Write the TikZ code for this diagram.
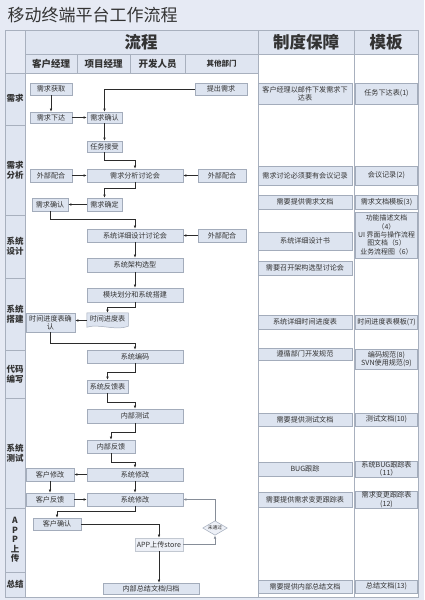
\documentclass[tikz,border=0pt]{standalone}
\usepackage{fontspec}
\setmainfont{Noto Sans CJK SC}
\usetikzlibrary{arrows.meta,shapes.geometric}
\definecolor{bgc}{HTML}{E6EAF4}
\definecolor{hdrc}{HTML}{DFE5F1}
\definecolor{boxc}{HTML}{DDE4F0}
\definecolor{lboxc}{HTML}{EDF0F7}
\definecolor{bordc}{HTML}{A3ACBB}
\definecolor{gridc}{HTML}{A8B0BE}
\definecolor{txtc}{HTML}{333333}
\definecolor{linec}{HTML}{2B2B2B}
\begin{document}
\begin{tikzpicture}[x=1pt,y=-1pt,
  fbox/.style={draw=bordc, fill=boxc, line width=0.5pt, inner sep=0pt, text=txtc, font=\fontsize{7.1}{8.4}\selectfont, align=center},
  arr/.style={draw=linec, line width=0.55pt, -{Latex[length=3.2pt,width=2.6pt]}},
  cell/.style={draw=gridc, line width=0.5pt},
  hdr/.style={text=txtc, font=\bfseries\fontsize{16.5}{18}\selectfont},
  subhdr/.style={text=txtc, font=\bfseries\fontsize{9.5}{11}\selectfont},
  lab/.style={text=txtc, font=\bfseries\fontsize{8.5}{10}\selectfont, align=center},
]
\useasboundingbox (0,0) rectangle (424,600);
\fill[bgc] (0,0) rectangle (424,600);
\node[anchor=west, font=\fontsize{17}{19}\selectfont, text=txtc] (title) at (4,15) {移动终端平台工作流程};

% header grid
\filldraw[cell, fill=bgc] (5,30) rectangle (25,73);
\filldraw[cell, fill=hdrc] (25,30) rectangle (258,54);
\filldraw[cell, fill=hdrc] (258,30) rectangle (354,54);
\filldraw[cell, fill=hdrc] (354,30) rectangle (418,54);
\filldraw[cell, fill=hdrc] (25,54) rectangle (77,73);
\filldraw[cell, fill=hdrc] (77,54) rectangle (130,73);
\filldraw[cell, fill=hdrc] (130,54) rectangle (185,73);
\filldraw[cell, fill=hdrc] (185,54) rectangle (258,73);
% body
\filldraw[cell, fill=white] (25,73) rectangle (258,597);
\filldraw[cell, fill=white] (258,54) rectangle (354,597);
\filldraw[cell, fill=white] (354,54) rectangle (418,597);
% left column
\foreach \a/\b in {73/125,125/215,215/278,278/350,350/398,398/508,508/572,572/597}
  \filldraw[cell, fill=hdrc] (5,\a) rectangle (25,\b);

\node[hdr] (h1) at (141,42) {流程};
\node[hdr] (h2) at (306,42) {制度保障};
\node[hdr] (h3) at (386,42) {模板};
\node[subhdr] (s1) at (51,63.5) {客户经理};
\node[subhdr] (s2) at (103.5,63.5) {项目经理};
\node[subhdr] (s3) at (157.5,63.5) {开发人员};
\node[subhdr, font=\bfseries\fontsize{7.5}{8}\selectfont] (s4) at (221.5,63.5) {其他部门};

\node[lab] (l1) at (15,98.5) {需求};
\node[lab] (l2) at (15,170) {需求\\分析};
\node[lab] (l3) at (15,246.5) {系统\\设计};
\node[lab] (l4) at (15,314) {系统\\搭建};
\node[lab] (l5) at (15,374) {代码\\编写};
\node[lab] (l6) at (15,453) {系统\\测试};
\node[lab, font=\bfseries\fontsize{8.5}{9.6}\selectfont] (l7) at (15,540) {A\\P\\P\\上\\传};
\node[lab] (l8) at (15,584.5) {总结};

% flow nodes
\node[fbox, minimum width=42, minimum height=12] (qhq) at (51,89) {需求获取};
\node[fbox, minimum width=52, minimum height=12] (tcx) at (221,89) {提出需求};
\node[fbox, minimum width=42, minimum height=11] (xqxd) at (51,117.5) {需求下达};
\node[fbox, minimum width=35, minimum height=11] (xqqr) at (104.5,117.5) {需求确认};
\node[fbox, minimum width=35, minimum height=11] (rwjs) at (104.5,146.5) {任务接受};
\node[fbox, minimum width=42, minimum height=13] (wb1) at (51,175.5) {外部配合};
\node[fbox, minimum width=96, minimum height=13] (fxt) at (135,175.5) {需求分析讨论会};
\node[fbox, minimum width=48, minimum height=13] (wb2) at (222,175.5) {外部配合};
\node[fbox, minimum width=36, minimum height=13] (xqqr2) at (50,204.5) {需求确认};
\node[fbox, minimum width=35, minimum height=13] (xqqd) at (104.5,204.5) {需求确定};
\node[fbox, minimum width=96, minimum height=13] (xxsj) at (135,235.5) {系统详细设计讨论会};
\node[fbox, minimum width=48, minimum height=13] (wb3) at (222,235.5) {外部配合};
\node[fbox, minimum width=96, minimum height=14] (jgxx) at (135,265) {系统架构选型};
\node[fbox, minimum width=96, minimum height=14] (mkhf) at (135,295) {模块划分和系统搭建};
\node[fbox, minimum width=49, minimum height=19] (sjqr) at (50.5,322.5) {时间进度表确\\认};
\node[fbox, draw=none, fill=none, minimum width=41, minimum height=15] (sjb) at (107.5,320.5) {};
\filldraw[draw=bordc, fill=boxc, line width=0.5pt] (sjb.north west) -- (sjb.north east) -- ([yshift=2pt]sjb.south east)
  .. controls ([xshift=-12pt,yshift=-3pt]sjb.south east) and ([xshift=12pt,yshift=5pt]sjb.south west) .. ([yshift=1pt]sjb.south west) -- cycle;
\node[text=txtc, font=\fontsize{7.1}{8.4}\selectfont] (sjbt) at ([yshift=1.5pt]sjb.center) {时间进度表};
\node[fbox, minimum width=96, minimum height=13] (xtbm) at (135,356.5) {系统编码};
\node[fbox, minimum width=41, minimum height=13] (fkb) at (107.5,386.5) {系统反馈表};
\node[fbox, minimum width=96, minimum height=14] (nbcs) at (135,416) {内部测试};
\node[fbox, minimum width=48, minimum height=13] (nbfk) at (111,446.5) {内部反馈};
\node[fbox, minimum width=96, minimum height=13] (xg1) at (135,474.5) {系统修改};
\node[fbox, minimum width=48, minimum height=13] (khxg) at (50,474.5) {客户修改};
\node[fbox, minimum width=48, minimum height=13] (khfk) at (50,499.5) {客户反馈};
\node[fbox, minimum width=96, minimum height=13] (xg2) at (135,499.5) {系统修改};
\node[fbox, minimum width=48, minimum height=12] (khqr) at (57,524) {客户确认};
\node[fbox, fill=lboxc, draw=gridc!70, minimum width=48, minimum height=13] (app) at (159,544.5) {APP上传store};
\node[fbox, fill=lboxc, shape=diamond, aspect=1.7, minimum width=24, minimum height=14, inner sep=0.5pt, font=\fontsize{4.8}{5}\selectfont] (wtg) at (215,528) {未通过};
\node[fbox, minimum width=96, minimum height=11] (zjgd) at (151,588.5) {内部总结文档归档};

% right columns
\node[fbox, minimum width=94, minimum height=21] (r1) at (305,93.5) {客户经理以邮件下发需求下\\达表};
\node[fbox, minimum width=62, minimum height=21] (t1) at (386.5,93.5) {任务下达表(1)};
\node[fbox, minimum width=94, minimum height=19] (r2) at (305,175.5) {需求讨论必须要有会议记录};
\node[fbox, minimum width=62, minimum height=19] (t2) at (386.5,175.5) {会议记录(2)};
\node[fbox, minimum width=94, minimum height=14] (r3) at (305,202) {需要提供需求文档};
\node[fbox, minimum width=62, minimum height=14] (t3) at (386.5,202) {需求文档模板(3)};
\node[fbox, minimum width=94, minimum height=18] (r4) at (305,241) {系统详细设计书};
\node[fbox, minimum width=62, minimum height=46, font=\fontsize{6.9}{8.4}\selectfont] (t4) at (386.5,235) {功能描述文档\\（4）\\UI 界面与操作流程\\图文档（5）\\业务流程图（6）};
\node[fbox, minimum width=94, minimum height=14] (r5) at (305,268) {需要召开架构选型讨论会};
\node[fbox, minimum width=94, minimum height=14] (r6) at (305,322) {系统详细时间进度表};
\node[fbox, minimum width=62, minimum height=14] (t6) at (386.5,322) {时间进度表模板(7)};
\node[fbox, minimum width=94, minimum height=12] (r7) at (305,354) {遵循部门开发规范};
\node[fbox, minimum width=62, minimum height=20] (t7) at (386.5,359) {编码规范(8)\\SVN使用规范(9)};
\node[fbox, minimum width=94, minimum height=13] (r8) at (305,419.5) {需要提供测试文档};
\node[fbox, minimum width=62, minimum height=13] (t8) at (386.5,419.5) {测试文档(10)};
\node[fbox, minimum width=94, minimum height=14] (r9) at (305,469) {BUG跟踪};
\node[fbox, minimum width=62, minimum height=16] (t9) at (386.5,469) {系统BUG跟踪表\\（11）};
\node[fbox, minimum width=94, minimum height=15] (r10) at (305,499.5) {需要提供需求变更跟踪表};
\node[fbox, minimum width=62, minimum height=17] (t10) at (386.5,499.5) {需求变更跟踪表\\(12)};
\node[fbox, minimum width=94, minimum height=13] (r11) at (305,586.5) {需要提供内部总结文档};
\node[fbox, minimum width=62, minimum height=13] (t11) at (386.5,586.5) {总结文档(13)};

% connectors
\draw[arr] (qhq.south) -- (xqxd.north);
\draw[arr] (xqxd.east) -- (xqqr.west);
\draw[arr] (tcx.west) -| (xqqr.north);
\draw[arr] (xqqr.south) -- (rwjs.north);
\draw[arr] (rwjs.south) -- ++(0,8) -| (fxt.north);
\draw[arr] (wb1.east) -- (fxt.west);
\draw[arr] (wb2.west) -- (fxt.east);
\draw[arr] (fxt.south) -- ++(0,6) -| (xqqd.north);
\draw[arr] (xqqd.west) -- (xqqr2.east);
\draw[arr] (xqqr2.south) -- ++(0,8) -| (xxsj.north);
\draw[arr] (wb3.west) -- (xxsj.east);
\draw[arr] (xxsj.south) -- (jgxx.north);
\draw[arr] (jgxx.south) -- (mkhf.north);
\draw[arr] (mkhf.south) -- ++(0,5) -| (sjb.north);
\draw[arr] (sjb.west) -- (sjb.west -| sjqr.east);
\draw[arr] (sjqr.south) -- ++(0,11) -| (xtbm.north);
\draw[arr] (xtbm.south) -- ++(0,9) -| (fkb.north);
\draw[arr] (fkb.south) -- ++(0,9) -| (nbcs.north);
\draw[arr] (nbcs.south) -- ++(0,9) -| (nbfk.north);
\draw[arr] (nbfk.south) -- ++(0,9) -| (xg1.north);
\draw[arr] (xg1.west) -- (khxg.east);
\draw[arr] (khxg.south) -- (khfk.north);
\draw[arr] (khfk.east) -- (xg2.west);
\draw[arr] (xg1.south) -- (xg2.north);
\draw[arr] (xg2.south) -- ++(0,5) -| (khqr.north);
\draw[arr] (khqr.east) -| (app.north);
\draw[arr, draw=gridc!80!black] (app.east) -| (wtg.south);
\draw[arr, draw=gridc!80!black] (wtg.north) |- (xg2.east);
\draw[arr] (app.south) -- (app.south |- zjgd.north);
\end{tikzpicture}
\end{document}
